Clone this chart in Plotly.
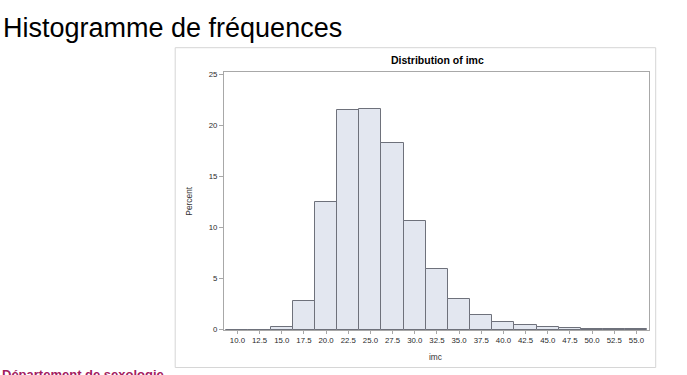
import plotly.graph_objects as go

bin_mids = [10.0, 12.5, 15.0, 17.5, 20.0, 22.5, 25.0, 27.5, 30.0, 32.5, 35.0,
            37.5, 40.0, 42.5, 45.0, 47.5, 50.0, 52.5, 55.0]
percent = [0.0, 0.0, 0.3, 2.85, 12.5, 21.5, 21.6, 18.25, 10.6, 5.95, 3.0,
           1.47, 0.78, 0.45, 0.23, 0.2, 0.07, 0.07, 0.07]
x_tick_labels = ["%.1f" % v for v in bin_mids]
y_ticks = [0, 5, 10, 15, 20, 25]

W, H = 687, 375
L, R, T, B = 224.3, 649.3, 72, 330

def px(x):
    return (x - L) / (R - L)

def py(y):
    return (B - y) / (B - T)

FONT = "Liberation Sans, Arial, sans-serif"

fig = go.Figure()
fig.add_trace(go.Bar(
    x=bin_mids, y=percent, width=2.5,
    marker=dict(color="#e3e7f0", line=dict(color="#6e717b", width=1)),
    hoverinfo="x+y",
))

fig.update_layout(
    width=W, height=H,
    margin=dict(l=L, r=W - R, t=T, b=H - B),
    paper_bgcolor="white", plot_bgcolor="white",
    showlegend=False,
    font=dict(family=FONT, color="#333333", size=7.5),
    bargap=0,
)
fig.update_xaxes(
    range=[8.49, 56.42], tickvals=bin_mids, ticktext=x_tick_labels,
    showgrid=False, zeroline=False,
    showline=True, mirror=True, linecolor="#a8a8a8", linewidth=1,
    ticks="outside", ticklen=3, tickcolor="#a8a8a8",
    tickfont=dict(size=7.8, color="#2a2a2a"),
)
fig.update_yaxes(
    range=[-0.03, 25.22], tickvals=y_ticks,
    showgrid=False, zeroline=False,
    showline=True, mirror=True, linecolor="#a8a8a8", linewidth=1,
    ticks="outside", ticklen=4, tickcolor="#a8a8a8",
    tickfont=dict(size=7.8, color="#2a2a2a"),
)

# outer graph frame
fig.add_shape(type="rect", xref="paper", yref="paper",
              x0=px(175.5), x1=px(656), y0=py(367.5), y1=py(47.7),
              line=dict(color="#d6d6d6", width=1), layer="below")

ann = [
    dict(text="Histogramme de fréquences", x=px(1.5), y=py(28.5), xanchor="left",
         yanchor="middle", font=dict(size=27, color="#000000", family=FONT)),
    dict(text="<b>Distribution of imc</b>", x=px(437.5), y=py(60.5), xanchor="center",
         yanchor="middle", font=dict(size=10.5, color="#000000", family=FONT)),
    dict(text="Percent", x=px(189), y=py(201), textangle=-90, xanchor="center",
         yanchor="middle", font=dict(size=8.4, color="#333333", family=FONT)),
    dict(text="imc", x=px(436), y=py(356.5), xanchor="center",
         yanchor="middle", font=dict(size=8.4, color="#333333", family=FONT)),
    dict(text="<b>Département de sexologie</b>", x=px(0), y=py(365), xanchor="left",
         yanchor="top", font=dict(size=13, color="#a3205f", family=FONT)),
]
for a in ann:
    fig.add_annotation(xref="paper", yref="paper", showarrow=False, **a)

fig.write_html("out.html")
